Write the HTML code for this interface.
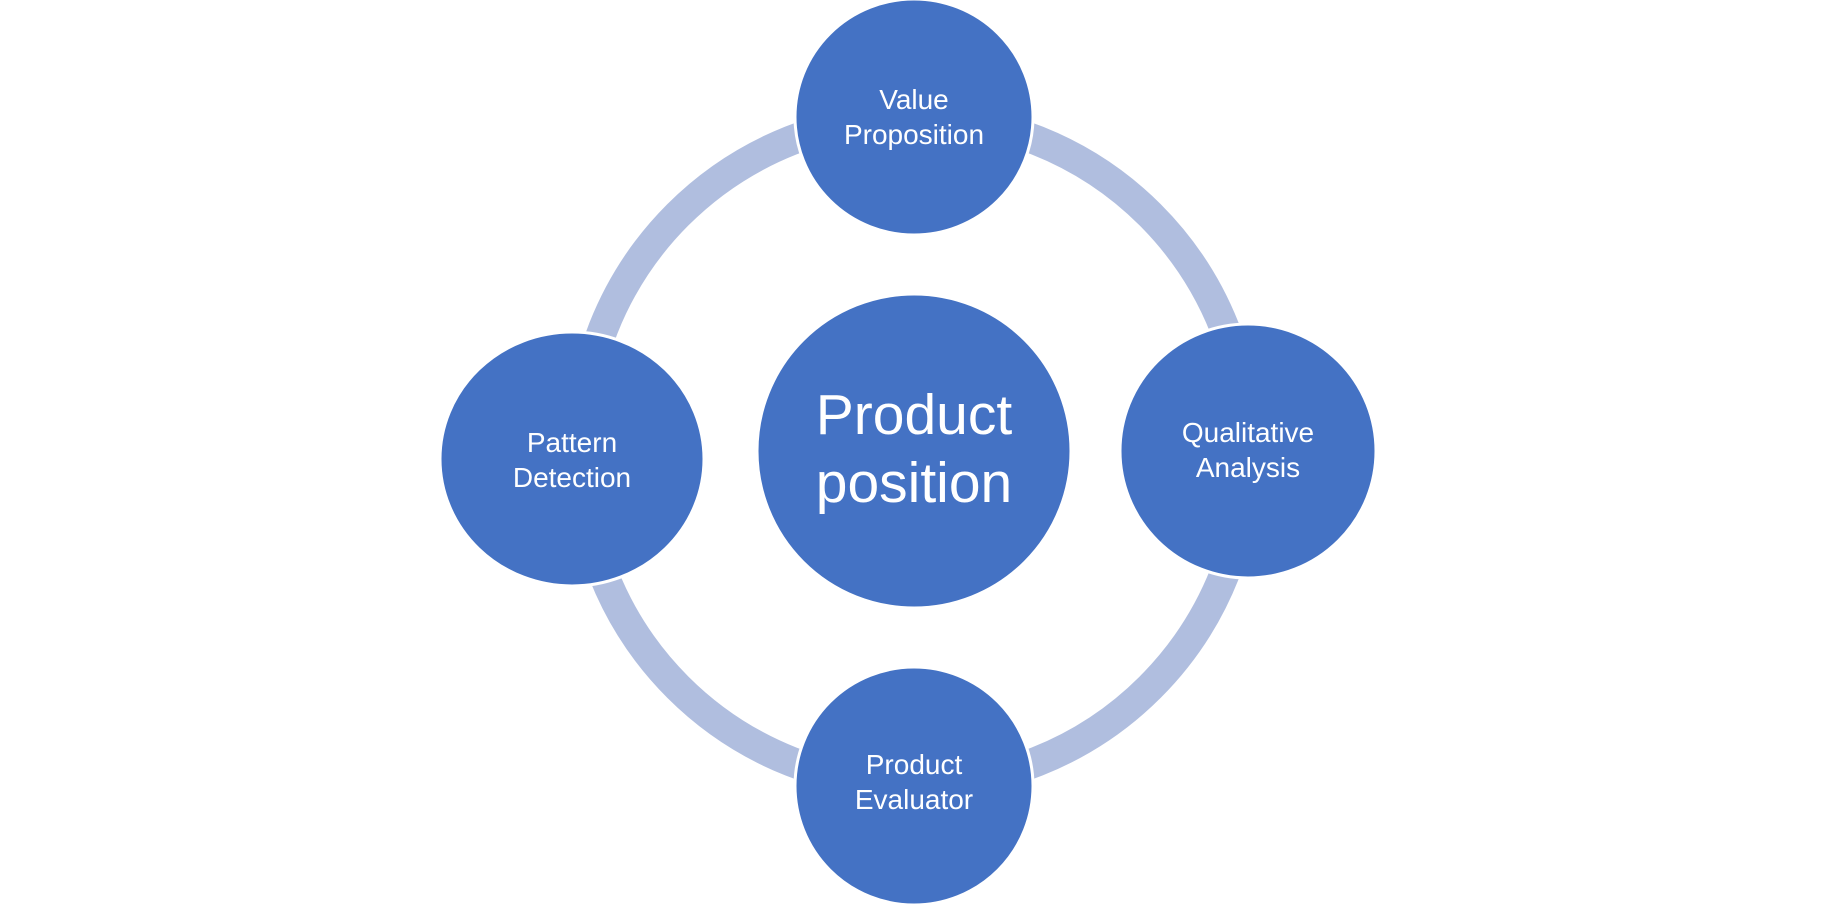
<!DOCTYPE html>
<html><head><style>body{margin:0;background:#fff}svg{display:block}</style></head>
<body>
<svg width="1822" height="904" viewBox="0 0 1822 904" xmlns="http://www.w3.org/2000/svg" font-family="'Liberation Sans', sans-serif" fill="#fff" text-anchor="middle">
<circle cx="914" cy="451" r="334" fill="none" stroke="#b0bedf" stroke-width="30"/>
<g fill="#4472c4" stroke="#fff" stroke-width="3">
<ellipse cx="914" cy="451" rx="157" ry="157"/>
<ellipse cx="914" cy="117" rx="119" ry="118"/>
<ellipse cx="914" cy="786" rx="119" ry="119"/>
<ellipse cx="572" cy="459" rx="132" ry="127"/>
<ellipse cx="1248" cy="451" rx="128" ry="127"/>
</g>
<g font-size="28" fill="#fff">
<text x="914" y="109">Value</text><text x="914" y="144">Proposition</text>
<text x="914" y="774">Product</text><text x="914" y="809">Evaluator</text>
<text x="572" y="452">Pattern</text><text x="572" y="487">Detection</text>
<text x="1248" y="442">Qualitative</text><text x="1248" y="477">Analysis</text>
</g>
<g font-size="57" fill="#fff">
<text x="914" y="434">Product</text><text x="914" y="502">position</text>
</g>
</svg>
</body></html>
